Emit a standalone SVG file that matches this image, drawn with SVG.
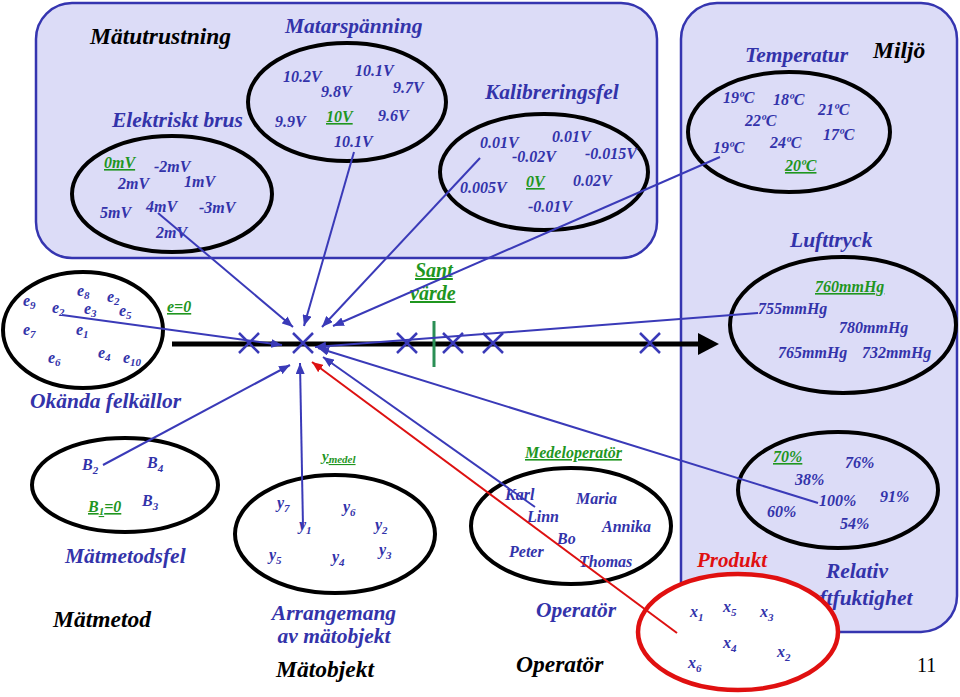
<svg xmlns="http://www.w3.org/2000/svg" width="960" height="697" viewBox="0 0 960 697" font-family="'Liberation Serif', 'Times New Roman', serif">
<style>
text { font-family: "Liberation Serif", "Times New Roman", serif; font-style: italic; font-weight: bold; }
.h { font-size: 21.5px; fill: #3333aa; }
.k { font-size: 23.5px; fill: #000000; }
.v { font-size: 16px; fill: #3333aa; }
.g { fill: #1f961f; text-decoration: underline; }
.s { font-size: 11px; }
.ell { fill: none; stroke: #000000; stroke-width: 4; }
.box { fill: #dcdcf7; stroke: #3535b0; stroke-width: 2.5; }
.c { stroke: #3a3ab8; stroke-width: 2; fill: none; marker-end: url(#ab); }
.cr { stroke: #dd1111; stroke-width: 2; fill: none; marker-end: url(#ar); }
.x { stroke: #3a3ab8; stroke-width: 2.5; fill: none; }
</style>
<defs>
<marker id="ab" markerUnits="userSpaceOnUse" markerWidth="11" markerHeight="9" refX="11" refY="4.5" orient="auto"><path d="M0,0 L11,4.5 L0,9 z" fill="#3a3ab8"/></marker>
<marker id="ar" markerUnits="userSpaceOnUse" markerWidth="11" markerHeight="9" refX="11" refY="4.5" orient="auto"><path d="M0,0 L11,4.5 L0,9 z" fill="#dd1111"/></marker>
</defs>
<rect width="960" height="697" fill="#ffffff"/>

<g id="matutrustning">
<rect class="box" x="36" y="3" width="621" height="255" rx="36" ry="36"/>
<text class="k" x="90" y="44">Mätutrustning</text>
</g>

<g id="miljo">
<rect class="box" x="681" y="3" width="276" height="629" rx="36" ry="36"/>
<text class="k" x="873" y="58">Miljö</text>
<text class="h" x="857" y="578" text-anchor="middle">Relativ</text>
<text class="h" x="857" y="605" text-anchor="middle">luftfuktighet</text>
</g>

<g id="elektriskt-brus">
<text class="h" x="112" y="127">Elektriskt brus</text>
<ellipse class="ell" cx="172" cy="194" rx="100" ry="58"/>
<text class="v g" x="104" y="168">0mV</text>
<text class="v" x="154" y="172">-2mV</text>
<text class="v" x="118" y="189">2mV</text>
<text class="v" x="184" y="187">1mV</text>
<text class="v" x="100" y="218">5mV</text>
<text class="v" x="146" y="212">4mV</text>
<text class="v" x="199" y="213">-3mV</text>
<text class="v" x="156" y="238">2mV</text>
</g>

<g id="matarspanning">
<text class="h" x="285" y="33">Matarspänning</text>
<ellipse class="ell" cx="347" cy="102" rx="99" ry="59"/>
<text class="v" x="283" y="82">10.2V</text>
<text class="v" x="355" y="76">10.1V</text>
<text class="v" x="321" y="97">9.8V</text>
<text class="v" x="393" y="93">9.7V</text>
<text class="v" x="275" y="127">9.9V</text>
<text class="v g" x="326" y="122">10V</text>
<text class="v" x="378" y="121">9.6V</text>
<text class="v" x="334" y="147">10.1V</text>
</g>

<g id="kalibreringsfel">
<text class="h" x="485" y="99">Kalibreringsfel</text>
<ellipse class="ell" cx="544" cy="172" rx="104" ry="58"/>
<text class="v" x="480" y="148">0.01V</text>
<text class="v" x="552" y="142">0.01V</text>
<text class="v" x="512" y="162">-0.02V</text>
<text class="v" x="585" y="159">-0.015V</text>
<text class="v" x="460" y="193">0.005V</text>
<text class="v g" x="526" y="187">0V</text>
<text class="v" x="573" y="186">0.02V</text>
<text class="v" x="528" y="212">-0.01V</text>
</g>

<g id="temperatur">
<text class="h" x="745" y="62">Temperatur</text>
<ellipse class="ell" cx="789" cy="132" rx="101" ry="60"/>
<text class="v" x="723" y="103">19ºC</text>
<text class="v" x="773" y="105">18ºC</text>
<text class="v" x="818" y="115">21ºC</text>
<text class="v" x="745" y="126">22ºC</text>
<text class="v" x="823" y="140">17ºC</text>
<text class="v" x="713" y="153">19ºC</text>
<text class="v" x="770" y="148">24ºC</text>
<text class="v g" x="785" y="171">20ºC</text>
</g>

<g id="lufttryck">
<text class="h" x="790" y="247">Lufttryck</text>
<ellipse class="ell" cx="843" cy="325" rx="113" ry="68"/>
<text class="v g" x="815" y="292">760mmHg</text>
<text class="v" x="758" y="314">755mmHg</text>
<text class="v" x="839" y="333">780mmHg</text>
<text class="v" x="778" y="358">765mmHg</text>
<text class="v" x="862" y="358">732mmHg</text>
</g>

<g id="relativ-luftfuktighet">
<ellipse class="ell" cx="838" cy="490" rx="100" ry="58"/>
<text class="v g" x="773" y="462">70%</text>
<text class="v" x="845" y="468">76%</text>
<text class="v" x="795" y="485">38%</text>
<text class="v" x="819" y="506">100%</text>
<text class="v" x="880" y="502">91%</text>
<text class="v" x="767" y="517">60%</text>
<text class="v" x="840" y="529">54%</text>
</g>

<g id="okanda-felkallor">
<ellipse class="ell" cx="83" cy="330" rx="80" ry="58"/>
<text class="v" x="23" y="306">e<tspan class="s" dy="3">9</tspan></text>
<text class="v" x="52" y="313">e<tspan class="s" dy="3">2</tspan></text>
<text class="v" x="77" y="296">e<tspan class="s" dy="3">8</tspan></text>
<text class="v" x="107" y="302">e<tspan class="s" dy="3">2</tspan></text>
<text class="v" x="84" y="314">e<tspan class="s" dy="3">3</tspan></text>
<text class="v" x="119" y="316">e<tspan class="s" dy="3">5</tspan></text>
<text class="v" x="23" y="335">e<tspan class="s" dy="3">7</tspan></text>
<text class="v" x="76" y="335">e<tspan class="s" dy="3">1</tspan></text>
<text class="v" x="48" y="363">e<tspan class="s" dy="3">6</tspan></text>
<text class="v" x="98" y="358">e<tspan class="s" dy="3">4</tspan></text>
<text class="v" x="123" y="363">e<tspan class="s" dy="3">10</tspan></text>
<text class="v g" x="167" y="312">e=0</text>
<text class="h" x="30" y="408">Okända felkällor</text>
</g>

<g id="axis">
<line x1="172" y1="344" x2="700" y2="344" stroke="#000" stroke-width="5"/>
<polygon points="698,333 719,344 698,355" fill="#000"/>
<line x1="434" y1="321" x2="434" y2="367" stroke="#2a8f55" stroke-width="3"/>
<path class="x" d="M239,333 L259,353 M259,333 L239,353"/>
<path class="x" d="M293,333 L313,353 M313,333 L293,353"/>
<path class="x" d="M397,333 L417,353 M417,333 L397,353"/>
<path class="x" d="M443,333 L463,353 M463,333 L443,353"/>
<path class="x" d="M483,333 L503,353 M503,333 L483,353"/>
<path class="x" d="M640,333 L660,353 M660,333 L640,353"/>
<text class="g" x="415" y="277" font-size="20">Sant</text>
<text class="g" x="410" y="300" font-size="20">värde</text>
</g>

<g id="matmetod">
<ellipse class="ell" cx="125" cy="485" rx="93" ry="47"/>
<text class="v" x="82" y="470">B<tspan class="s" dy="4">2</tspan></text>
<text class="v" x="147" y="468">B<tspan class="s" dy="4">4</tspan></text>
<text class="v g" x="88" y="512">B<tspan class="s" dy="3">1</tspan><tspan dy="-3">=0</tspan></text>
<text class="v" x="142" y="506">B<tspan class="s" dy="4">3</tspan></text>
<text class="h" x="65" y="563">Mätmetodsfel</text>
<text class="k" x="53" y="627">Mätmetod</text>
</g>

<g id="matobjekt">
<text class="g" x="322" y="461" font-size="15">y<tspan font-size="11" dy="2">medel</tspan></text>
<ellipse class="ell" cx="335" cy="534" rx="100" ry="59"/>
<text class="v" x="277" y="508">y<tspan class="s" dy="4">7</tspan></text>
<text class="v" x="343" y="512">y<tspan class="s" dy="4">6</tspan></text>
<text class="v" x="299" y="530">y<tspan class="s" dy="4">1</tspan></text>
<text class="v" x="375" y="530">y<tspan class="s" dy="4">2</tspan></text>
<text class="v" x="269" y="560">y<tspan class="s" dy="4">5</tspan></text>
<text class="v" x="332" y="562">y<tspan class="s" dy="4">4</tspan></text>
<text class="v" x="379" y="555">y<tspan class="s" dy="4">3</tspan></text>
<text class="h" x="334" y="620" text-anchor="middle">Arrangemang</text>
<text class="h" x="334" y="643" text-anchor="middle">av mätobjekt</text>
<text class="k" x="276" y="677">Mätobjekt</text>
</g>

<g id="operator">
<text class="g" x="525" y="458" font-size="16">Medeloperatör</text>
<ellipse class="ell" cx="571" cy="526" rx="100" ry="58"/>
<text class="v" x="505" y="500">Karl</text>
<text class="v" x="576" y="504">Maria</text>
<text class="v" x="527" y="522">Linn</text>
<text class="v" x="602" y="532">Annika</text>
<text class="v" x="557" y="544">Bo</text>
<text class="v" x="509" y="557">Peter</text>
<text class="v" x="579" y="567">Thomas</text>
<text class="h" x="536" y="617">Operatör</text>
<text class="k" x="516" y="672">Operatör</text>
</g>

<g id="produkt">
<text x="697" y="567" font-size="21" fill="#e01010">Produkt</text>
<ellipse cx="738" cy="632" rx="100" ry="58" fill="#ffffff" stroke="#e01010" stroke-width="4.5"/>
<text class="v" x="690" y="617">x<tspan class="s" dy="4">1</tspan></text>
<text class="v" x="723" y="612">x<tspan class="s" dy="4">5</tspan></text>
<text class="v" x="760" y="617">x<tspan class="s" dy="4">3</tspan></text>
<text class="v" x="723" y="648">x<tspan class="s" dy="4">4</tspan></text>
<text class="v" x="777" y="657">x<tspan class="s" dy="4">2</tspan></text>
<text class="v" x="688" y="668">x<tspan class="s" dy="4">6</tspan></text>
</g>

<g id="page-number">
<text x="917" y="672" font-size="20" fill="#000" style="font-style:normal;font-weight:normal">11</text>
</g>

<g id="connectors">
<line class="c" x1="158" y1="213" x2="293" y2="327"/>
<line class="c" x1="354" y1="152" x2="304" y2="326"/>
<line class="c" x1="480" y1="158" x2="322" y2="327"/>
<line class="c" x1="720" y1="157" x2="333" y2="326"/>
<line class="c" x1="62" y1="315" x2="282" y2="345"/>
<line class="c" x1="758" y1="313" x2="315" y2="347"/>
<line class="c" x1="818" y1="503" x2="318" y2="348"/>
<line class="c" x1="535" y1="507" x2="323" y2="357"/>
<line class="cr" x1="677" y1="633" x2="312" y2="362"/>
<line class="c" x1="103" y1="465" x2="290" y2="365"/>
<line class="c" x1="303" y1="527" x2="300" y2="363"/>
</g>
</svg>
